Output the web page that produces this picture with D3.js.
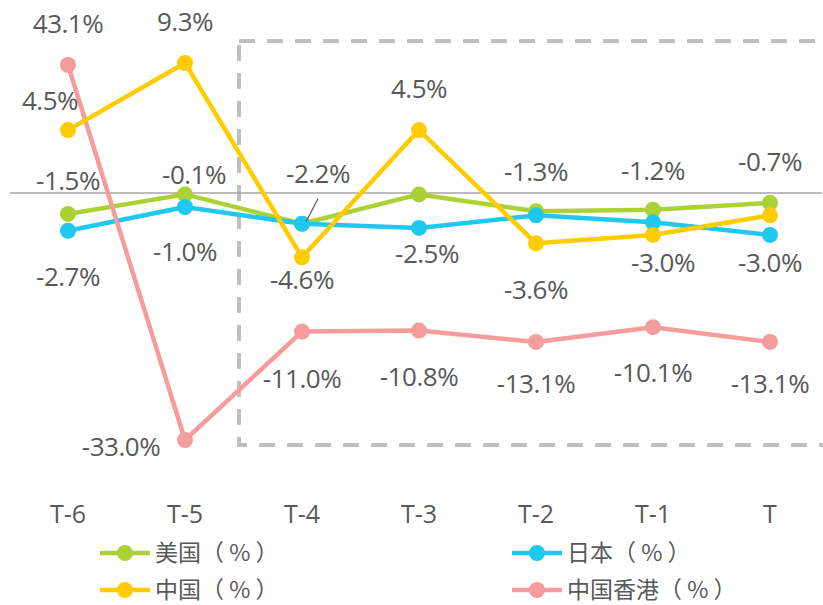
<!DOCTYPE html>
<html>
<head>
<meta charset="utf-8">
<script src="https://cdn.jsdelivr.net/npm/d3@7/dist/d3.min.js"></script>
<style>
  body { margin: 0; background: #fff; }
  svg { display: block; }
  text { fill: #595959; }
</style>
</head>
<body>
<svg id="chart" width="823" height="605"></svg>
<script>
// periods
const categories = ['T-6', 'T-5', 'T-4', 'T-3', 'T-2', 'T-1', 'T'];

// growth, % (hong kong is on its own, hidden right axis)
const usValues = [-1.5, -0.1, -2.2, -0.1, -1.3, -1.2, -0.7];
const jpValues = [-2.7, -1.0, -2.2, -2.5, -1.6, -2.1, -3.0];
const cnValues = [4.5, 9.3, -4.6, 4.5, -3.6, -3.0, -1.6];
const hkValues = [43.1, -33.0, -11.0, -10.8, -13.1, -10.1, -13.1];

// which points carry a label (some are hidden in the original)
const usShown = [1, 1, 1, 0, 1, 1, 1];
const jpShown = [1, 1, 0, 1, 0, 0, 1];
const cnShown = [1, 1, 1, 1, 1, 1, 0];
const hkShown = [1, 1, 1, 1, 1, 1, 1];

const legendNames = ['美国（ % ）', '日本（ % ）', '中国（ % ）', '中国香港（ % ）'];

const svg = d3.select('#chart'),
      numFont = '"Open Sans", "Noto Sans", sans-serif',
      cjkFont = '"Noto Sans CJK SC", sans-serif';

const x = d3.scalePoint().domain(categories).range([9.5, 828.5]).padding(0.5);
const yL = d3.scaleLinear().domain([0, 9.3]).range([193, 63]);
const yR = d3.scaleLinear().domain([-33, 43.1]).range([440, 65]);

// label offsets from the point: [dx, dy] to text baseline
const series = [
  { name: legendNames[0], color: '#acd135', vals: usValues, shown: usShown, y: yL,
    off: [[0, -24], [9, -10], [16, -41], [0, 0], [0, -30], [0, -30], [0, -32]] },
  { name: legendNames[1], color: '#1ec8ef', vals: jpValues, shown: jpShown, y: yL,
    off: [[0, 55], [0, 54], [0, 0], [8, 35], [0, 0], [0, 0], [0, 37]] },
  { name: legendNames[3], color: '#f59c9d', vals: hkValues, shown: hkShown, y: yR,
    off: [[0, -32], [-64, 16], [0, 56], [0, 55], [0, 51], [0, 55], [0, 51]] },
  { name: legendNames[2], color: '#ffcc00', vals: cnValues, shown: cnShown, y: yL,
    off: [[-18, -20], [0, -32], [0, 32], [0, -32], [0, 56], [10, 37], [0, 0]] }
];

// highlight box
svg.append('rect')
  .attr('x', 239).attr('y', 41)
  .attr('width', 600).attr('height', 404)
  .attr('fill', 'none')
  .attr('stroke', '#bfbfbf')
  .attr('stroke-width', 4)
  .attr('stroke-dasharray', '16,12');

// zero line
svg.append('line')
  .attr('x1', 10).attr('x2', 822)
  .attr('y1', yL(0)).attr('y2', yL(0))
  .attr('stroke', '#a6a6a6')
  .attr('stroke-width', 1.5);

// x axis labels
svg.append('g').selectAll('text')
  .data(categories)
  .enter().append('text')
    .attr('x', d => x(d))
    .attr('y', 523)
    .attr('text-anchor', 'middle')
    .style('font-family', numFont)
    .style('font-size', '25px')
    .text(d => d);

series.forEach(function(s) {
  const line = d3.line()
    .x((d, i) => x(categories[i]))
    .y(d => s.y(d));
  const g = svg.append('g');
  g.append('path')
    .datum(s.vals)
    .attr('d', line)
    .attr('fill', 'none')
    .attr('stroke', s.color)
    .attr('stroke-width', 4.5)
    .attr('stroke-linejoin', 'round');
  g.selectAll('circle')
    .data(s.vals)
    .enter().append('circle')
      .attr('cx', (d, i) => x(categories[i]))
      .attr('cy', d => s.y(d))
      .attr('r', 8)
      .attr('fill', s.color);
});

// data labels on top
series.forEach(function(s) {
  svg.append('g').selectAll('text')
    .data(s.vals.map((v, i) => ({ v: v, i: i })).filter(d => s.shown[d.i]))
    .enter().append('text')
      .attr('x', d => x(categories[d.i]) + s.off[d.i][0])
      .attr('y', d => s.y(d.v) + s.off[d.i][1])
      .attr('text-anchor', 'middle')
      .style('font-family', numFont)
      .style('font-size', '26px')
      .style('letter-spacing', '-0.5px')
      .text(d => d.v.toFixed(1) + '%');
});

// leader line for the T-4 us label
svg.append('line')
  .attr('x1', x('T-4') + 16).attr('y1', yL(usValues[2]) - 25)
  .attr('x2', x('T-4') + 4).attr('y2', yL(usValues[2]) - 2)
  .attr('stroke', '#595959')
  .attr('stroke-width', 1.2);

// legend
const legendPos = [[100, 553], [512, 553], [100, 590], [512, 590]];
const legendColors = ['#acd135', '#1ec8ef', '#ffcc00', '#f59c9d'];
const legend = svg.append('g').selectAll('g')
  .data(legendNames)
  .enter().append('g')
    .attr('transform', (d, i) => 'translate(' + legendPos[i][0] + ',' + legendPos[i][1] + ')');
legend.append('line')
  .attr('x1', 0).attr('x2', 50)
  .attr('stroke', (d, i) => legendColors[i])
  .attr('stroke-width', 4.5);
legend.append('circle')
  .attr('cx', 25).attr('r', 8)
  .attr('fill', (d, i) => legendColors[i]);
legend.append('text')
  .attr('x', 55).attr('y', 8)
  .style('font-family', cjkFont)
  .style('font-size', '23px')
  .text(d => d);
</script>
</body>
</html>
